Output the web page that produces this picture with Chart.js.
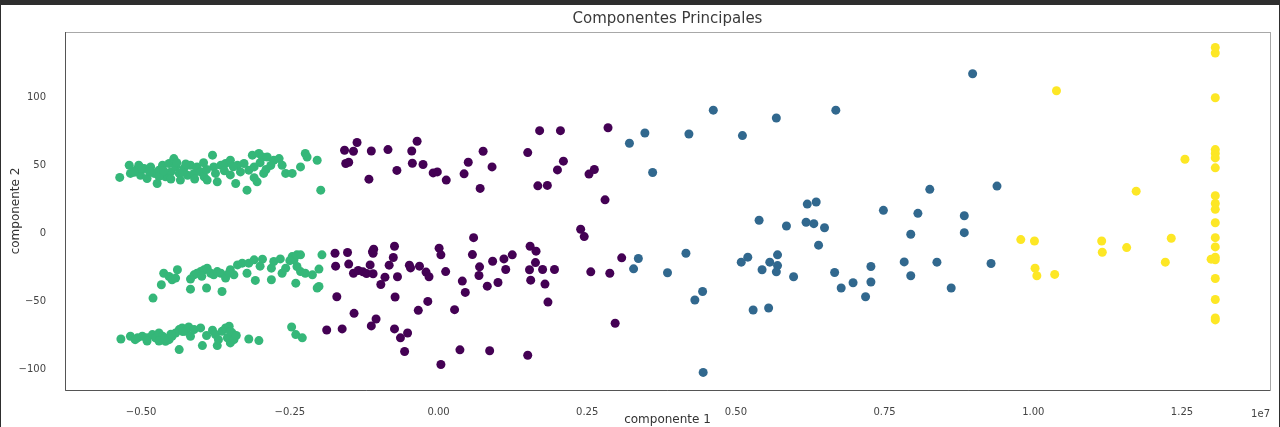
<!DOCTYPE html>
<html>
<head>
<meta charset="utf-8">
<script src="https://cdn.jsdelivr.net/npm/chart.js@4"></script>
<style>
  body { margin: 0; background: #2e2e2e; width: 1280px; height: 427px; overflow: hidden; }
  #wrap { position: absolute; left: 1px; top: 5px; width: 1278px; height: 422px; background: #fff; }
</style>
</head>
<body>
<div id="wrap"><canvas id="pca" width="1278" height="422"></canvas></div>
<script>
// valores del eje x en unidades de 1e7
const xTicks = [-0.5, -0.25, 0, 0.25, 0.5, 0.75, 1.0, 1.25];
const yTicks = [-100, -50, 0, 50, 100];

const grupoMorado = [
  [-0.137,66.8],[-0.158,61.1],[-0.143,60.4],[-0.113,60.6],[-0.085,61.6],[-0.045,60.6],[-0.036,67.7],
  [-0.156,51.4],[-0.151,52.3],[-0.117,39.9],[-0.070,46.3],[-0.044,51.6],[-0.026,50.7],[-0.009,44.5],
  [-0.002,45.2],[0.013,39.2],[0.043,43.8],[0.050,52.3],[0.075,60.4],[0.090,48.9],[0.070,33.1],
  [0.150,59.4],[0.170,75.5],[0.205,75.5],[0.285,77.7],[0.167,35.0],[0.183,35.3],[0.200,46.7],
  [0.210,53.1],[0.253,43.6],[0.262,47.0],[0.280,24.7],[0.239,3.1],[0.245,-2.3],[0.059,-3.1],
  [-0.174,-14.5],[-0.153,-14.0],[-0.173,-24.0],[-0.151,-22.5],[-0.143,-29.2],[-0.135,-27.2],
  [-0.127,-28.2],[-0.121,-29.4],[-0.115,-23.1],[-0.110,-29.6],[-0.111,-13.3],[-0.109,-11.6],
  [-0.110,-14.5],[-0.074,-9.4],[-0.076,-17.7],[-0.083,-23.3],[-0.090,-32.1],[-0.097,-37.5],
  [-0.069,-31.8],[-0.049,-23.3],[-0.047,-25.3],[-0.032,-24.0],[-0.021,-28.4],[-0.016,-31.8],
  [0.001,-10.8],[0.004,-15.7],[0.012,-28.0],[0.040,-35.0],[0.045,-43.3],[0.057,-15.5],[0.069,-24.5],
  [0.068,-30.9],[0.082,-38.7],[0.091,-20.4],[0.100,-36.0],[0.110,-18.7],[0.113,-26.5],[0.124,-15.7],
  [0.154,-9.4],[0.164,-13.0],[0.163,-21.4],[0.153,-26.7],[0.155,-34.3],[0.175,-26.5],[0.179,-37.2],
  [0.195,-26.5],[0.184,-50.4],[0.256,-28.2],[0.288,-29.2],[0.308,-17.9],[0.297,-66.0],[-0.171,-46.5],
  [-0.142,-58.7],[-0.105,-62.8],[-0.113,-67.9],[-0.073,-46.7],[-0.074,-70.1],[-0.052,-73.1],
  [-0.064,-76.7],[-0.057,-86.7],[-0.018,-49.9],[-0.034,-56.5],[0.027,-56.0],[0.036,-85.5],
  [0.086,-86.2],[0.150,-89.5],[0.004,-96.3],[-0.188,-70.9],[-0.162,-70.1]
];

const grupoAzul = [
  [0.898,117.3],[0.462,90.6],[0.668,90.6],[0.568,84.8],[0.347,73.8],[0.421,73.1],[0.511,71.9],
  [0.321,66.3],[0.360,44.8],[0.826,32.4],[0.939,34.8],[0.748,17.0],[0.806,14.8],[0.884,13.0],
  [0.884,0.6],[0.794,-0.6],[0.620,21.6],[0.635,23.1],[0.539,9.7],[0.585,5.5],[0.618,8.2],[0.631,7.2],
  [0.649,4.2],[0.639,-8.6],[0.416,-14.5],[0.336,-18.4],[0.520,-17.4],[0.570,-15.7],[0.328,-26.0],
  [0.385,-28.9],[0.444,-42.6],[0.431,-48.9],[0.445,-102.1],[0.509,-21.1],[0.557,-21.1],[0.544,-26.7],
  [0.570,-23.6],[0.568,-28.2],[0.597,-31.8],[0.529,-56.2],[0.555,-54.8],[0.666,-28.7],[0.677,-40.1],
  [0.697,-36.2],[0.727,-24.3],[0.727,-35.7],[0.718,-46.5],[0.783,-20.9],[0.794,-31.1],[0.838,-21.1],
  [0.862,-40.1],[0.929,-22.1]
];

const grupoVerde = [
  // banda superior
  [-0.536,41.2],[-0.520,50.1],[-0.518,44.1],[-0.509,46.5],[-0.504,50.1],[-0.501,42.8],[-0.495,47.7],
  [-0.490,40.4],[-0.484,48.9],[-0.478,44.1],[-0.473,36.7],[-0.470,46.5],[-0.464,50.1],[-0.459,41.6],
  [-0.453,51.4],[-0.450,45.2],[-0.445,55.0],[-0.442,48.9],[-0.436,44.1],[-0.434,39.2],[-0.428,47.7],
  [-0.422,42.8],[-0.417,50.1],[-0.411,44.1],[-0.406,48.9],[-0.400,45.2],[-0.394,41.6],[-0.389,39.2],
  [-0.380,57.5],[-0.378,48.9],[-0.375,44.1],[-0.372,37.9],[-0.366,50.1],[-0.358,51.4],[-0.350,53.8],
  [-0.341,36.7],[-0.338,50.1],[-0.333,45.2],[-0.327,51.4],[-0.322,31.8],[-0.319,46.5],[-0.313,57.5],
  [-0.310,48.9],[-0.305,37.9],[-0.302,58.7],[-0.296,56.2],[-0.294,44.1],[-0.288,56.2],[-0.277,53.8],
  [-0.268,55.0],[-0.263,50.1],[-0.257,44.1],[-0.246,44.1],[-0.232,48.9],[-0.224,58.7],[-0.221,56.2],
  [-0.204,53.8],[-0.198,31.8],[-0.500,48.0],[-0.470,42.0],[-0.450,40.0],[-0.440,52.0],[-0.430,45.0],
  [-0.410,40.0],[-0.390,47.0],[-0.360,46.0],[-0.350,43.0],[-0.310,41.0],[-0.300,52.0],[-0.290,47.0],
  [-0.512,45.0],[-0.486,45.5],[-0.462,46.0],[-0.425,51.0],[-0.395,52.0],[-0.345,49.0],[-0.282,50.0],
  // banda media
  [-0.480,-47.5],[-0.466,-37.7],[-0.462,-29.2],[-0.453,-31.6],[-0.448,-34.0],[-0.439,-26.7],
  [-0.442,-32.8],[-0.417,-40.9],[-0.417,-33.5],[-0.411,-30.4],[-0.406,-29.2],[-0.400,-28.0],
  [-0.394,-26.7],[-0.389,-25.5],[-0.383,-29.2],[-0.378,-30.4],[-0.372,-28.0],[-0.366,-29.2],
  [-0.390,-40.1],[-0.364,-42.6],[-0.358,-32.8],[-0.350,-26.7],[-0.344,-30.4],[-0.338,-23.1],
  [-0.330,-21.8],[-0.322,-29.2],[-0.319,-21.8],[-0.310,-19.4],[-0.308,-34.5],[-0.296,-18.9],
  [-0.281,-34.0],[-0.281,-25.5],[-0.277,-20.6],[-0.266,-18.7],[-0.263,-29.2],[-0.257,-25.5],
  [-0.246,-17.0],[-0.243,-19.4],[-0.238,-15.7],[-0.232,-15.7],[-0.238,-24.3],[-0.240,-36.5],
  [-0.232,-28.0],[-0.224,-29.2],[-0.212,-30.4],[-0.201,-26.2],[-0.201,-38.9],[-0.196,-15.7],
  [-0.204,-40.1],[-0.398,-31.5],[-0.352,-29.0],[-0.300,-24.0],[-0.250,-20.0],
  // banda inferior
  [-0.534,-77.5],[-0.518,-75.5],[-0.506,-76.7],[-0.498,-75.5],[-0.490,-76.7],[-0.481,-74.3],
  [-0.476,-76.7],[-0.470,-73.1],[-0.464,-75.5],[-0.459,-79.2],[-0.453,-78.0],[-0.448,-75.5],
  [-0.442,-73.1],[-0.436,-70.6],[-0.431,-69.4],[-0.425,-71.9],[-0.420,-68.7],[-0.417,-75.5],
  [-0.411,-70.6],[-0.400,-69.4],[-0.397,-82.4],[-0.380,-71.1],[-0.375,-74.3],[-0.372,-82.4],
  [-0.364,-71.9],[-0.358,-69.4],[-0.355,-76.7],[-0.352,-68.2],[-0.350,-80.4],[-0.347,-73.1],
  [-0.344,-78.0],[-0.436,-85.3],[-0.319,-77.5],[-0.302,-78.7],[-0.247,-68.7],[-0.240,-74.3],
  [-0.229,-76.7],[-0.510,-78.0],[-0.490,-79.0],[-0.470,-79.0],[-0.460,-77.0],[-0.450,-74.0],
  [-0.430,-72.0],[-0.390,-75.0],[-0.370,-78.0],[-0.350,-72.0],[-0.340,-75.0]
];

const grupoAmarillo = [
  [1.039,104.8],[1.306,136.7],[1.306,132.6],[1.306,99.7],[1.255,54.5],[1.306,61.6],[1.306,58.7],
  [1.306,55.5],[1.306,48.2],[1.173,31.1],[1.306,27.7],[1.306,22.1],[1.306,17.7],[1.306,7.9],
  [1.306,-3.1],[1.306,-9.9],[1.306,-17.4],[1.299,-18.9],[1.306,-19.4],[1.306,-33.1],[1.306,-48.5],
  [1.306,-62.1],[1.306,-63.5],[0.979,-4.5],[1.002,-5.5],[1.003,-25.5],[1.006,-31.1],[1.036,-30.1],
  [1.115,-5.5],[1.116,-13.8],[1.157,-10.4],[1.232,-3.5],[1.222,-21.1]
];

const grupos = [
  { pts: grupoMorado, color: '#440154' },
  { pts: grupoAzul, color: '#31688e' },
  { pts: grupoVerde, color: '#35b779' },
  { pts: grupoAmarillo, color: '#fde725' }
];

function fmt(v, dec) {
  let s = Math.abs(v).toFixed(dec);
  return (v < 0 ? '\u2212' : '') + s;
}

const extras = {
  id: 'extras',
  afterDraw(chart) {
    const { ctx, chartArea: a } = chart;
    ctx.save();
    ctx.lineWidth = 1;
    ctx.strokeStyle = '#a8a8a8';
    ctx.strokeRect(a.left + 0.5, a.top + 0.5, a.right - a.left, a.bottom - a.top);
    ctx.strokeStyle = '#555';
    ctx.beginPath();
    ctx.moveTo(a.left + 0.5, a.top);
    ctx.lineTo(a.left + 0.5, a.bottom + 0.5);
    ctx.lineTo(a.right, a.bottom + 0.5);
    ctx.stroke();
    ctx.fillStyle = '#3a3a3a';
    ctx.font = '15px "DejaVu Sans"';
    ctx.textAlign = 'center';
    ctx.textBaseline = 'middle';
    ctx.fillText('Componentes Principales', (a.left + a.right) / 2, 14);
    ctx.font = '10px "DejaVu Sans"';
    ctx.textAlign = 'right';
    ctx.fillStyle = '#444';
    ctx.fillText('1e7', a.right, 409);
    ctx.restore();
  }
};

new Chart(document.getElementById('pca'), {
  type: 'scatter',
  data: {
    datasets: grupos.map(g => ({
      data: g.pts.map(p => ({ x: p[0], y: p[1] })),
      backgroundColor: g.color,
      borderWidth: 0,
      pointRadius: 4.5,
      pointHoverRadius: 4.5
    }))
  },
  options: {
    responsive: false,
    devicePixelRatio: 1,
    animation: false,
    layout: { padding: { top: 27, right: 9, left: 0, bottom: 0 } },
    plugins: { legend: { display: false }, tooltip: { enabled: false } },
    scales: {
      x: {
        type: 'linear',
        min: -0.628, max: 1.398,
        grid: { display: false },
        border: { display: false },
        afterBuildTicks: s => { s.ticks = xTicks.map(v => ({ value: v })); },
        afterFit: s => { s.height = 37; },
        ticks: { padding: 8, color: '#444', font: { family: 'DejaVu Sans', size: 10 },
                 callback: v => fmt(v, 2), maxRotation: 0 },
        title: { display: true, text: 'componente 1', color: '#333',
                 font: { family: 'DejaVu Sans', size: 12 }, padding: { top: 0, bottom: 0 } }
      },
      y: {
        type: 'linear',
        min: -115, max: 148,
        grid: { display: false },
        border: { display: false },
        afterBuildTicks: s => { s.ticks = yTicks.map(v => ({ value: v })); },
        afterFit: s => { s.width = 64; },
        ticks: { padding: 11, color: '#444', font: { family: 'DejaVu Sans', size: 10 },
                 callback: v => fmt(v, 0) },
        title: { display: true, text: 'componente 2', color: '#333',
                 font: { family: 'DejaVu Sans', size: 12 }, padding: { top: 8, bottom: 0 } }
      }
    }
  },
  plugins: [extras]
});
</script>
</body>
</html>
